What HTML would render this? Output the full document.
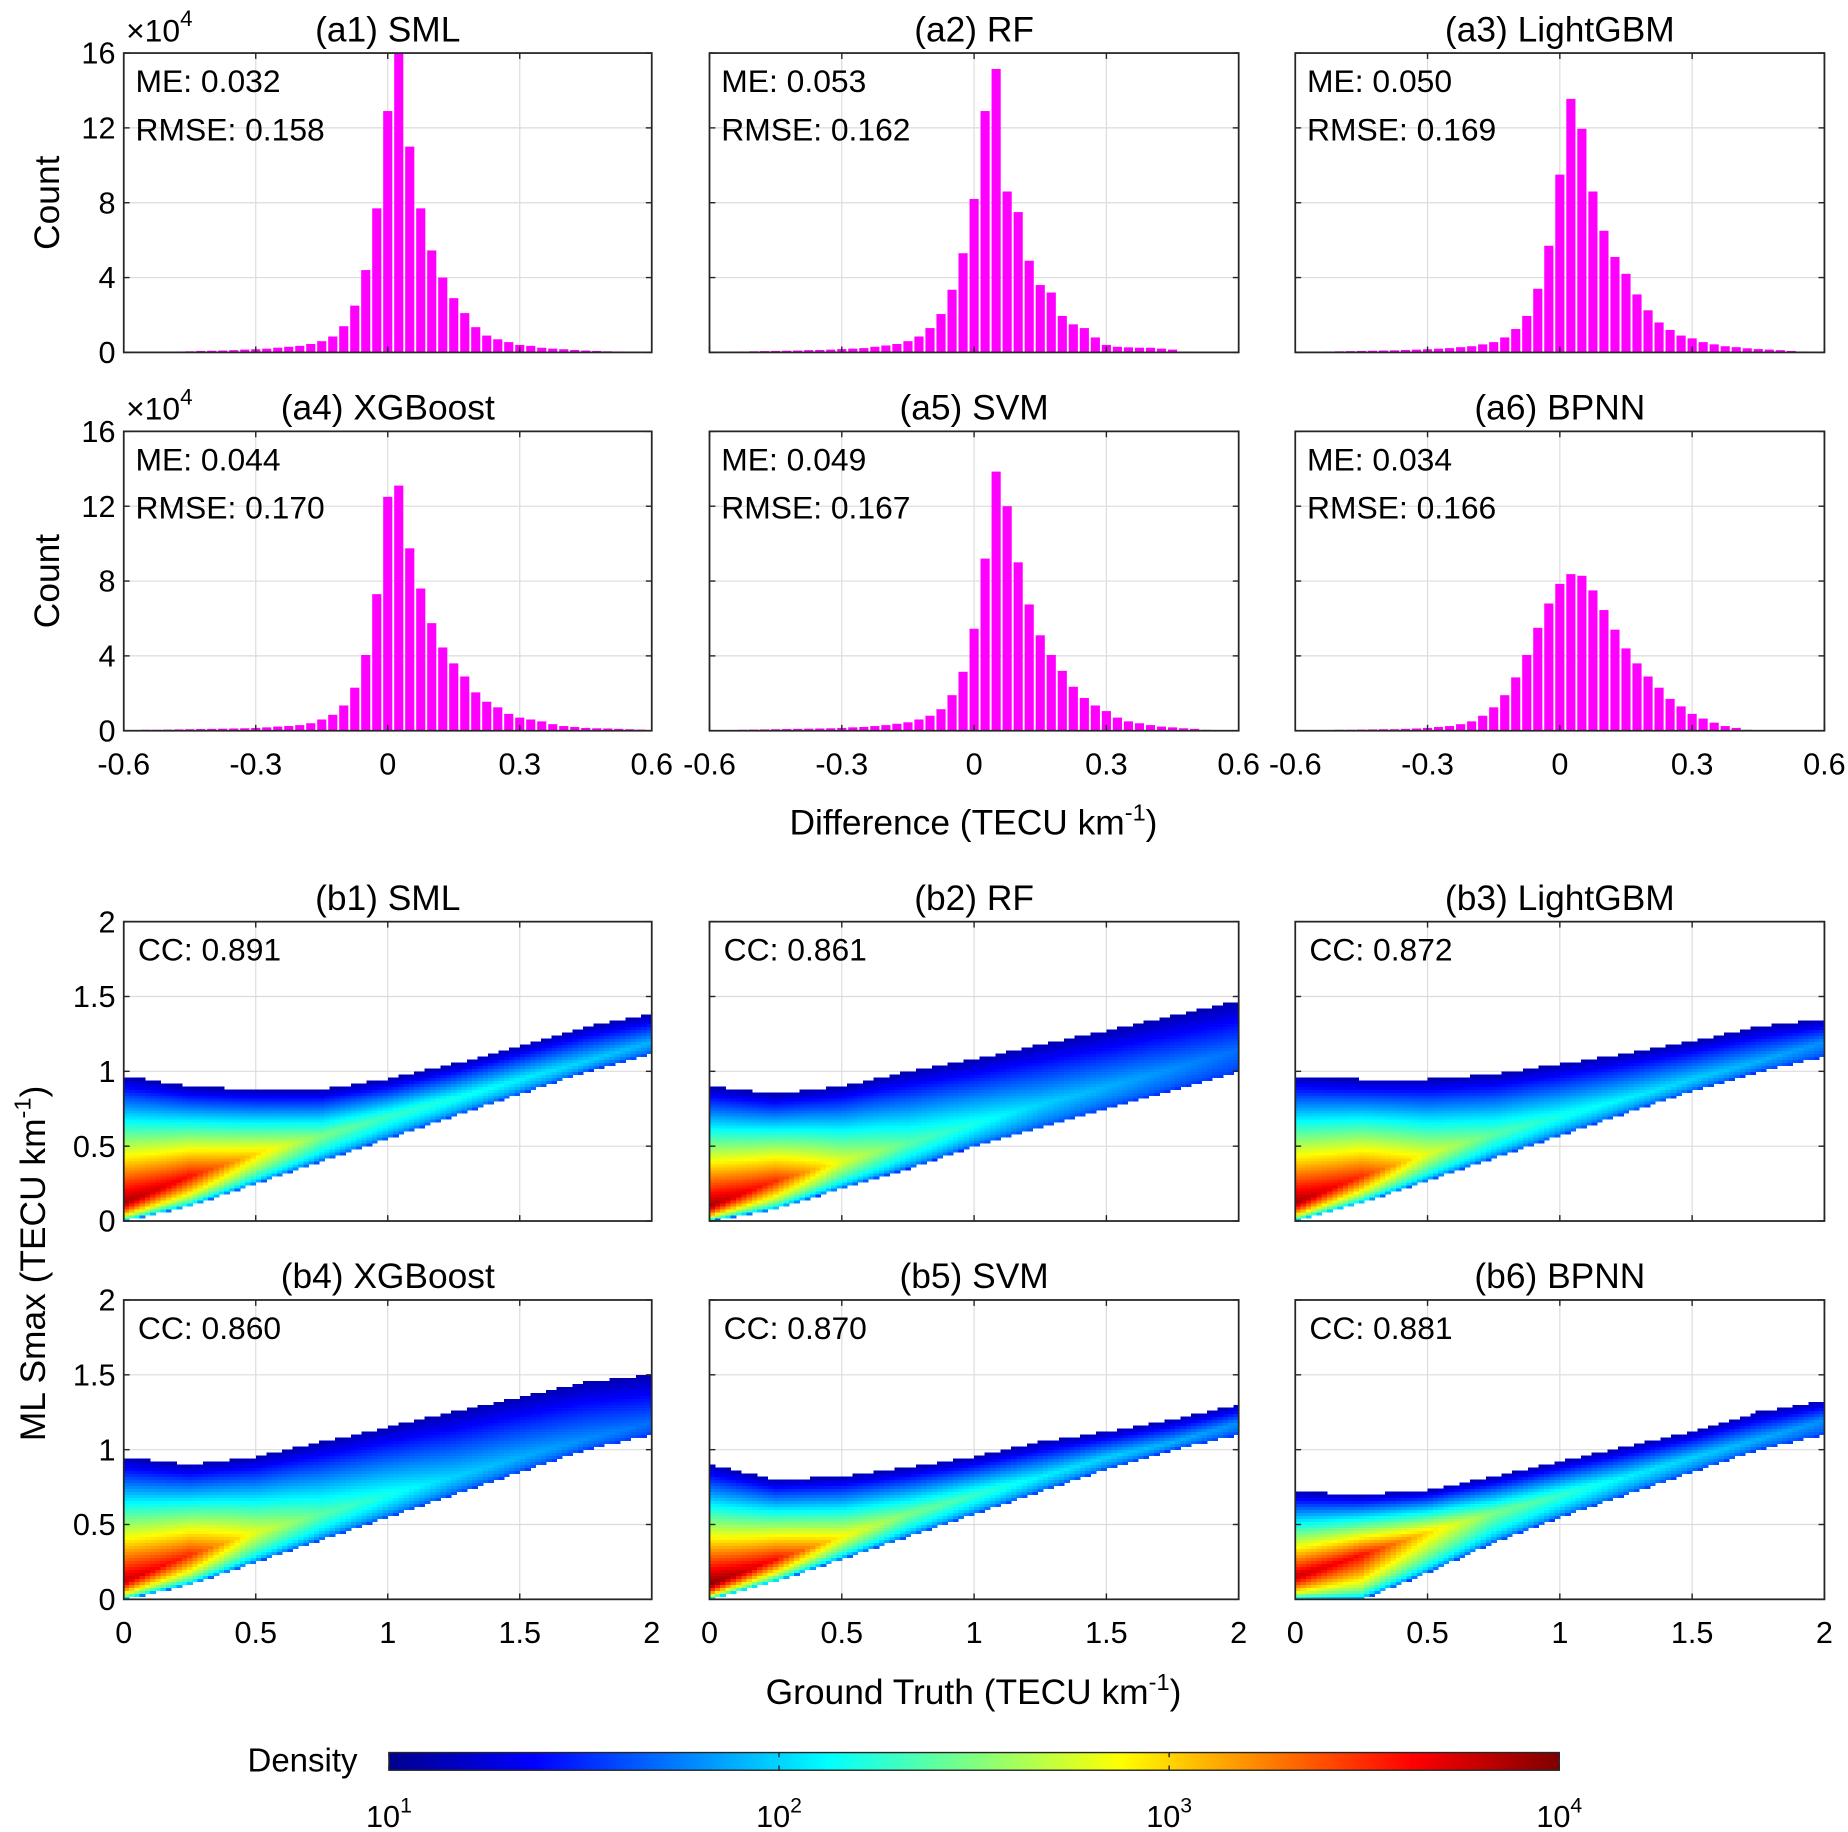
<!DOCTYPE html>
<html><head><meta charset="utf-8">
<style>
html,body{margin:0;padding:0;background:#fff;}
svg{display:block;font-family:"Liberation Sans",Arial,sans-serif;}
</style></head>
<body>
<svg id="fig" width="1848" height="1832" viewBox="0 0 1568 1554.4" xmlns="http://www.w3.org/2000/svg">
<defs>
<linearGradient id="jet" x1="0" x2="1" y1="0" y2="0">
<stop offset="0" stop-color="#00008f"/><stop offset="0.125" stop-color="#0000ff"/><stop offset="0.375" stop-color="#00ffff"/><stop offset="0.625" stop-color="#ffff00"/><stop offset="0.875" stop-color="#ff0000"/><stop offset="1" stop-color="#800000"/>
</linearGradient>
</defs>
<g id="root"></g>
</svg>
<script>
// ---------------- Histogram data (counts in 1e4, bin centers -0.6..0.6 step 0.025) ----------------
const histTitles = ["(a1) SML","(a2) RF","(a3) LightGBM","(a4) XGBoost","(a5) SVM","(a6) BPNN"];
const histME = ["0.032","0.053","0.050","0.044","0.049","0.034"];
const histRMSE = ["0.158","0.162","0.169","0.170","0.167","0.166"];
const binCenters = [-0.6,-0.575,-0.55,-0.525,-0.5,-0.475,-0.45,-0.425,-0.4,-0.375,-0.35,-0.325,-0.3,-0.275,-0.25,-0.225,-0.2,-0.175,-0.15,-0.125,-0.1,-0.075,-0.05,-0.025,0,0.025,0.05,0.075,0.1,0.125,0.15,0.175,0.2,0.225,0.25,0.275,0.3,0.325,0.35,0.375,0.4,0.425,0.45,0.475,0.5,0.525,0.55,0.575,0.6];
const countsA1 = [0.02,0.02,0.03,0.03,0.04,0.05,0.06,0.08,0.09,0.1,0.12,0.15,0.17,0.2,0.25,0.3,0.35,0.45,0.6,0.85,1.4,2.5,4.4,7.7,12.9,16,11.0,7.7,5.45,4.0,2.9,2.1,1.35,0.9,0.7,0.55,0.4,0.35,0.25,0.2,0.17,0.13,0.1,0.08,0.06,0.05,0.04,0.03,0.02];
const countsA2 = [0.02,0.03,0.04,0.05,0.06,0.07,0.08,0.09,0.1,0.12,0.13,0.15,0.18,0.2,0.23,0.3,0.37,0.45,0.6,0.85,1.3,2.05,3.35,5.3,8.2,12.9,15.15,8.6,7.5,4.9,3.6,3.2,1.95,1.5,1.3,0.8,0.4,0.3,0.27,0.25,0.25,0.2,0.15,0.03,0,0,0,0,0];
const countsA3 = [0.03,0.03,0.04,0.05,0.06,0.07,0.08,0.09,0.1,0.11,0.13,0.15,0.17,0.2,0.23,0.28,0.33,0.43,0.55,0.8,1.25,1.95,3.4,5.7,9.5,13.55,11.95,8.6,6.5,5.1,4.2,3.1,2.25,1.6,1.2,0.9,0.75,0.55,0.43,0.33,0.28,0.22,0.18,0.15,0.12,0.08,0.05,0.03,0.02];
const countsA4 = [0.03,0.04,0.05,0.05,0.06,0.07,0.08,0.09,0.1,0.11,0.12,0.13,0.15,0.18,0.22,0.25,0.3,0.4,0.6,0.85,1.35,2.3,4.05,7.3,12.5,13.1,9.75,7.6,5.75,4.45,3.6,2.9,2.05,1.55,1.25,0.9,0.7,0.6,0.5,0.35,0.25,0.2,0.15,0.13,0.12,0.1,0.08,0.06,0.02];
const countsA5 = [0.02,0.03,0.04,0.05,0.06,0.07,0.08,0.09,0.1,0.11,0.12,0.13,0.15,0.18,0.2,0.25,0.3,0.37,0.45,0.6,0.8,1.15,1.9,3.15,5.45,9.2,13.85,12.0,9.0,6.75,5.1,4.05,3.2,2.35,1.75,1.35,1.05,0.7,0.5,0.4,0.3,0.22,0.18,0.13,0.1,0.05,0,0,0];
const countsA6 = [0.02,0.03,0.03,0.04,0.05,0.05,0.06,0.07,0.08,0.08,0.1,0.12,0.15,0.2,0.25,0.35,0.5,0.8,1.25,1.9,2.85,4.05,5.5,6.8,7.85,8.37,8.28,7.5,6.45,5.4,4.4,3.6,2.9,2.3,1.7,1.3,0.9,0.65,0.43,0.25,0.15,0.05,0,0,0,0,0,0,0];
const histCounts = [countsA1,countsA2,countsA3,countsA4,countsA5,countsA6];
const histXTicks = [-0.6,-0.3,0,0.3,0.6];
const histXTickLabels = ["-0.6","-0.3","0","0.3","0.6"];
const histYTicks = [0,4,8,12,16];

// ---------------- Density scatter data (profiles sampled at gtSamples) ----------------
const scatTitles = ["(b1) SML","(b2) RF","(b3) LightGBM","(b4) XGBoost","(b5) SVM","(b6) BPNN"];
const scatCC = ["0.891","0.861","0.872","0.860","0.870","0.881"];
const gtSamples = [0,0.25,0.5,0.75,1,1.25,1.5,1.75,2];
const loB1=[0,0.1,0.25,0.4,0.55,0.7,0.85,1.0,1.12], modeB1=[0.12,0.3,0.45,0.57,0.7,0.82,0.95,1.07,1.2], hiB1=[0.97,0.9,0.88,0.88,0.95,1.05,1.17,1.3,1.38], peakB1=[3.9,3.6,3.0,2.5,2.3,2.2,2.1,2.0,1.9];
const loB2=[0,0.08,0.22,0.35,0.5,0.62,0.75,0.88,1.0], modeB2=[0.1,0.27,0.4,0.52,0.65,0.78,0.9,1.02,1.15], hiB2=[0.9,0.85,0.9,1.0,1.08,1.18,1.27,1.37,1.47], peakB2=[3.9,3.5,2.8,2.4,2.2,2.0,1.9,1.8,1.7];
const loB3=[0,0.12,0.27,0.42,0.57,0.72,0.87,1.0,1.1], modeB3=[0.12,0.3,0.45,0.58,0.7,0.82,0.95,1.07,1.2], hiB3=[0.97,0.95,0.95,0.98,1.05,1.12,1.2,1.3,1.35], peakB3=[3.9,3.5,2.8,2.4,2.2,2.1,2.0,1.9,1.8];
const loB4=[0,0.1,0.25,0.4,0.55,0.7,0.85,1.0,1.1], modeB4=[0.12,0.3,0.45,0.57,0.7,0.82,0.95,1.07,1.18], hiB4=[0.95,0.9,0.95,1.05,1.15,1.25,1.35,1.45,1.5], peakB4=[3.8,3.5,2.8,2.4,2.2,2.0,1.9,1.8,1.7];
const loB5=[0,0.12,0.27,0.42,0.57,0.72,0.87,1.0,1.1], modeB5=[0.1,0.27,0.42,0.57,0.7,0.82,0.95,1.05,1.18], hiB5=[0.9,0.8,0.82,0.88,0.95,1.05,1.12,1.2,1.3], peakB5=[4.0,3.6,2.9,2.5,2.3,2.1,2.0,1.9,1.8];
const loB6=[0,0.0,0.18,0.38,0.55,0.7,0.85,1.0,1.1], modeB6=[0.15,0.3,0.45,0.58,0.7,0.82,0.95,1.07,1.2], hiB6=[0.72,0.7,0.73,0.82,0.92,1.02,1.12,1.25,1.33], peakB6=[3.8,3.6,3.0,2.5,2.3,2.1,2.0,1.9,1.8];
const scatLo=[loB1,loB2,loB3,loB4,loB5,loB6], scatMode=[modeB1,modeB2,modeB3,modeB4,modeB5,modeB6], scatHi=[hiB1,hiB2,hiB3,hiB4,hiB5,hiB6], scatPeak=[peakB1,peakB2,peakB3,peakB4,peakB5,peakB6];
const scatTicks = [0,0.5,1,1.5,2];
const scatTickLabels = ["0","0.5","1","1.5","2"];
const cbarExps = ["1","2","3","4"];

const NS="http://www.w3.org/2000/svg";
const root=document.getElementById('root');
function mk(tag,attrs,parent){const e=document.createElementNS(NS,tag);for(const k in attrs)e.setAttribute(k,attrs[k]);(parent||root).appendChild(e);return e;}
function txt(s,x,y,size,anchor,parent){const t=mk('text',{x:x,y:y,'font-size':size,'text-anchor':anchor||'start',fill:'#000'},parent);t.textContent=s;return t;}

const colX=[[105,553],[602,1051],[1099,1548]];
const histRowY=[[45,299],[366,620]];
const scatRowY=[[782,1036],[1103,1357]];

function jet(v){
  const f=(x)=>Math.max(0,Math.min(1,x));
  const r=f(Math.min(4*v-1.5,-4*v+4.5)), g=f(Math.min(4*v-0.5,-4*v+3.5)), b=f(Math.min(4*v+0.5,-4*v+2.5));
  return 'rgb('+Math.round(r*255)+','+Math.round(g*255)+','+Math.round(b*255)+')';
}
function interp(arr,x){const s=x/0.25;const i=Math.min(7,Math.floor(s));const t=s-i;return arr[i]*(1-t)+arr[i+1]*t;}

function drawAxesFrame(g,x0,x1,y0,y1,xt,yt){
  xt.forEach(px=>{const l=mk('line',{x1:px,x2:px,y1:y0,y2:y1,stroke:'#dcdcdc','stroke-width':1},g);
    
    });
  yt.forEach(py=>{const l=mk('line',{x1:x0,x2:x1,y1:py,y2:py,stroke:'#dcdcdc','stroke-width':1},g);
    
    });
}
function drawFrameTicks(g,x0,x1,y0,y1,xt,yt){
  const r=mk('rect',{x:x0,y:y0,width:x1-x0,height:y1-y0,fill:'none',stroke:'#262626','stroke-width':1.5},g);
  
  
  xt.forEach(px=>{mk('line',{x1:px,x2:px,y1:y1,y2:y1-5,stroke:'#262626','stroke-width':1.2},g);mk('line',{x1:px,x2:px,y1:y0,y2:y0+5,stroke:'#262626','stroke-width':1.2},g);});
  yt.forEach(py=>{mk('line',{x1:x0,x2:x0+5,y1:py,y2:py,stroke:'#262626','stroke-width':1.2},g);mk('line',{x1:x1,x2:x1-5,y1:py,y2:py,stroke:'#262626','stroke-width':1.2},g);});
}

// ---------------- Histograms ----------------
for(let p=0;p<6;p++){
  const c=p%3, r=Math.floor(p/3);
  const [x0,x1]=colX[c], [y0,y1]=histRowY[r];
  const g=mk('g',{});
  
  
  const sx=v=>x0+(v+0.6)/1.2*(x1-x0);
  const sy=v=>y1-v/16*(y1-y0);
  drawAxesFrame(g,x0,x1,y0,y1,histXTicks.map(sx),histYTicks.map(sy));
  const counts=histCounts[p];
  const bw=0.025;
  binCenters.forEach((bc,i)=>{
    const v=counts[i]; if(!(v>0))return;
    const left=Math.max(bc-bw/2,-0.6), right=Math.min(bc+bw/2,0.6);
    const b=mk('rect',{x:sx(left)+0.8,y:sy(v),width:Math.max(0.5,sx(right)-sx(left)-1.6),height:sy(0)-sy(v),fill:'#ff00ff'},g);
    
    
  });
  drawFrameTicks(g,x0,x1,y0,y1,histXTicks.map(sx),histYTicks.map(sy));
  const tt=txt(histTitles[p],(x0+x1)/2,y0-10,30,'middle',g);
  
  
  const me=txt('ME: '+histME[p],x0+10,y0+33,27,'start',g);
  
  
  const rm=txt('RMSE: '+histRMSE[p],x0+10,y0+74,27,'start',g);
  
  
  if(c===0){
    histYTicks.forEach(v=>{const t=txt(String(v),x0-7,sy(v)+9,26,'end',g);
      
      });
    const ex=mk('text',{x:x0+2,y:y0-10,'font-size':27,fill:'#000'},g);
    ex.innerHTML='×10<tspan dy="-13" font-size="19">4</tspan>';
    
    
    const yl=mk('text',{x:0,y:0,'font-size':30,'text-anchor':'middle',fill:'#000',transform:'translate(50,'+((y0+y1)/2)+') rotate(-90)'},g);
    yl.textContent='Count';
    
    
  }
  if(r===1){
    histXTicks.forEach((v,i)=>{const t=txt(histXTickLabels[i],sx(v),y1+37,26,'middle',g);
      
      });
  }
}
{
  const xl=mk('text',{x:826,y:708,'font-size':30,'text-anchor':'middle',fill:'#000'});
  xl.innerHTML='Difference (TECU km<tspan dy="-12" font-size="20">-1</tspan><tspan dy="12">)</tspan>';
  
  
}

// ---------------- Density scatter panels ----------------
const cell=0.02;
for(let p=0;p<6;p++){
  const c=p%3, r=Math.floor(p/3);
  const [x0,x1]=colX[c], [y0,y1]=scatRowY[r];
  const g=mk('g',{});
  
  
  const sx=v=>x0+v/2*(x1-x0);
  const sy=v=>y1-v/2*(y1-y0);
  drawAxesFrame(g,x0,x1,y0,y1,scatTicks.map(sx),scatTicks.map(sy));
  const cg=mk('g',{'shape-rendering':'crispEdges'},g);
  
  
  const lo=scatLo[p],md=scatMode[p],hi=scatHi[p],pk=scatPeak[p];
  for(let i=0;i<100;i++){
    const xc=(i+0.5)*cell;
    const L=interp(lo,xc),M=interp(md,xc),H=interp(hi,xc),P=interp(pk,xc);
    for(let j=0;j<100;j++){
      const yc=(j+0.5)*cell;
      if(yc<L||yc>H)continue;
      let t = yc>=M ? (yc-M)/Math.max(0.02,H-M) : (M-yc)/Math.max(0.02,M-L);
      let d = yc>=M ? 1.15+(P-1.15)*Math.pow(1-t,1.0) : 1.5+(P-1.5)*Math.pow(1-t,0.5);
      const v=Math.max(0,Math.min(1,(d-1)/3));
      mk('rect',{x:sx(i*cell).toFixed(2),y:sy((j+1)*cell).toFixed(2),width:(sx(cell)-sx(0)+0.4).toFixed(2),height:(sy(0)-sy(cell)+0.4).toFixed(2),fill:jet(v)},cg);
    }
  }
  drawFrameTicks(g,x0,x1,y0,y1,scatTicks.map(sx),scatTicks.map(sy));
  const tt=txt(scatTitles[p],(x0+x1)/2,y0-10,30,'middle',g);
  
  
  const cc=txt('CC: '+scatCC[p],x0+12,y0+33,27,'start',g);
  
  
  if(c===0){
    scatTicks.forEach((v,i)=>{const t=txt(scatTickLabels[i],x0-7,sy(v)+9,26,'end',g);
      
      });
  }
  if(r===1){
    scatTicks.forEach((v,i)=>{const t=txt(scatTickLabels[i],sx(v),y1+37,26,'middle',g);
      
      });
  }
}
{
  const yl=mk('text',{x:0,y:0,'font-size':30,'text-anchor':'middle',fill:'#000',transform:'translate(38,1072) rotate(-90)'});
  yl.innerHTML='ML Smax (TECU km<tspan dy="-12" font-size="20">-1</tspan><tspan dy="12">)</tspan>';
  
  
  const xl=mk('text',{x:826,y:1446,'font-size':30,'text-anchor':'middle',fill:'#000'});
  xl.innerHTML='Ground Truth (TECU km<tspan dy="-12" font-size="20">-1</tspan><tspan dy="12">)</tspan>';
  
  
}

// ---------------- Colorbar ----------------
{
  const g=mk('g',{});
  
  
  const cx0=330,cx1=1323,cy0=1487,cy1=1502;
  mk('rect',{x:cx0,y:cy0,width:cx1-cx0,height:cy1-cy0,fill:'url(#jet)',stroke:'#262626','stroke-width':1.2},g);
  cbarExps.forEach((e,i)=>{
    const px=cx0+i/3*(cx1-cx0);
    mk('line',{x1:px,x2:px,y1:cy1,y2:cy1-4,stroke:'#262626','stroke-width':1.2},g);
    mk('line',{x1:px,x2:px,y1:cy0,y2:cy0+4,stroke:'#262626','stroke-width':1.2},g);
    const t=mk('text',{x:px,y:1550,'font-size':26,'text-anchor':'middle',fill:'#000'},g);
    t.innerHTML='10<tspan dy="-12" font-size="18">'+e+'</tspan>';
    
    
  });
  const d=txt('Density',210,1503,28,'start',g);
  
  
}
</script>
</body></html>
